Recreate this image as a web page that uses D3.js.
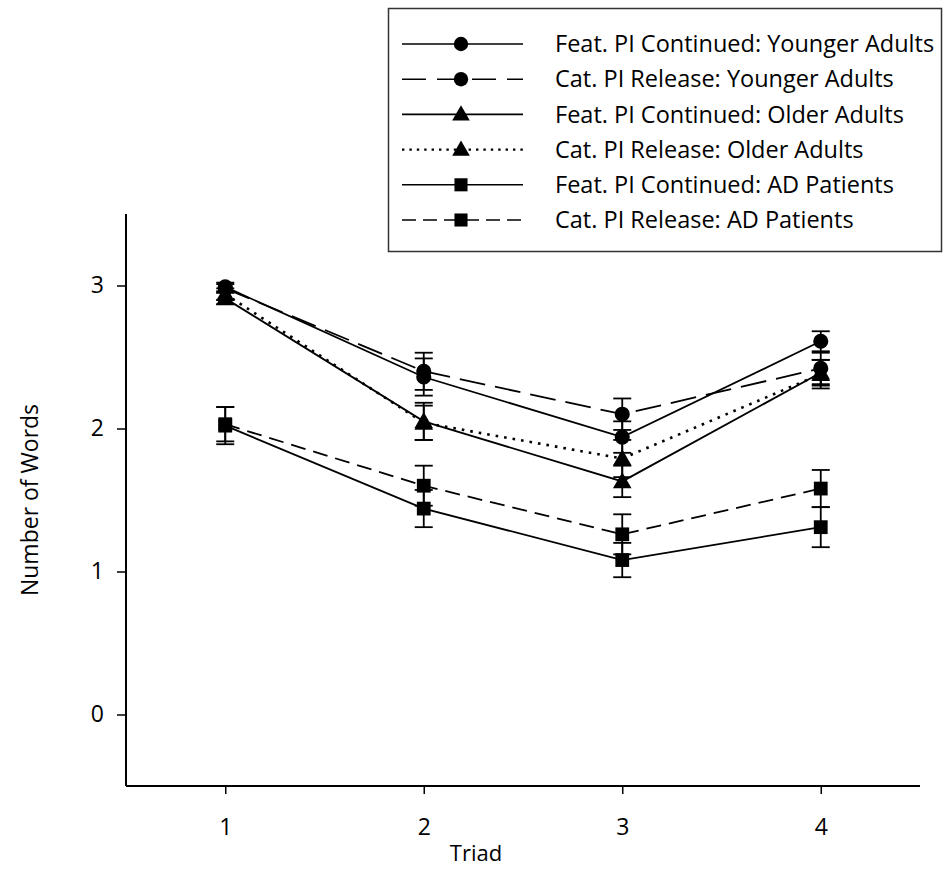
<!DOCTYPE html>
<html>
<head>
<meta charset="utf-8">
<script src="https://cdn.jsdelivr.net/npm/d3@7"></script>
<style>
  html, body { margin: 0; padding: 0; background: #fff; }
  svg { display: block; font-family: "Open Sans", "DejaVu Sans", sans-serif; }
</style>
</head>
<body>
<svg id="chart" width="947" height="892"></svg>
<script>
// Recall by triad for each interference condition and group
const triads = [1, 2, 3, 4];
const xTicks = [1, 2, 3, 4];
const yTicks = [0, 1, 2, 3];

const featYoungMean = [2.99, 2.36, 1.94, 2.61];
const featYoungErr  = [0.03, 0.13, 0.11, 0.07];
const catYoungMean  = [2.98, 2.40, 2.10, 2.42];
const catYoungErr   = [0.03, 0.13, 0.11, 0.11];
const featOldMean   = [2.91, 2.05, 1.63, 2.39];
const featOldErr    = [0.04, 0.13, 0.11, 0.09];
const catOldMean    = [2.94, 2.04, 1.79, 2.38];
const catOldErr     = [0.04, 0.12, 0.13, 0.10];
const featADMean    = [2.02, 1.44, 1.08, 1.31];
const featADErr     = [0.13, 0.13, 0.12, 0.14];
const catADMean     = [2.03, 1.60, 1.26, 1.58];
const catADErr      = [0.12, 0.14, 0.14, 0.13];

const seriesNames = [
  "Feat. PI Continued: Younger Adults",
  "Cat. PI Release: Younger Adults",
  "Feat. PI Continued: Older Adults",
  "Cat. PI Release: Older Adults",
  "Feat. PI Continued: AD Patients",
  "Cat. PI Release: AD Patients"
];

const series = [
  { name: seriesNames[0], mean: featYoungMean, err: featYoungErr, symbol: d3.symbolCircle,   dash: null,    legendDash: null,    dotted: false },
  { name: seriesNames[1], mean: catYoungMean,  err: catYoungErr,  symbol: d3.symbolCircle,   dash: "26,10", legendDash: "24,11", dotted: false },
  { name: seriesNames[2], mean: featOldMean,   err: featOldErr,   symbol: d3.symbolTriangle, dash: null,    legendDash: null,    dotted: false },
  { name: seriesNames[3], mean: catOldMean,    err: catOldErr,    symbol: d3.symbolTriangle, dash: "2.6,6", legendDash: "2.4,5", dotted: true },
  { name: seriesNames[4], mean: featADMean,    err: featADErr,    symbol: d3.symbolSquare,   dash: null,    legendDash: null,    dotted: false },
  { name: seriesNames[5], mean: catADMean,     err: catADErr,     symbol: d3.symbolSquare,   dash: "15,8",  legendDash: "14,7",  dotted: false }
];

const svg = d3.select("#chart");
svg.append("rect").attr("width", 947).attr("height", 892).attr("fill", "#fff");

const x = d3.scaleLinear().domain([0.5, 4.5]).range([126, 920]);
const y = d3.scaleLinear().domain([-0.5, 3.5]).range([786, 214]);

const symbolSize = { circle: 180, triangle: 150, square: 190 };
function symSize(sym, scale) {
  const base = sym === d3.symbolCircle ? symbolSize.circle
             : sym === d3.symbolTriangle ? symbolSize.triangle : symbolSize.square;
  return base * (scale || 1);
}

const fontSize = 23;

// Axes
const yAxis = d3.axisLeft(y).tickValues(yTicks).tickSize(9).tickPadding(13).tickFormat(d3.format("d"));
const xAxis = d3.axisBottom(x).tickValues(xTicks).tickSize(8).tickPadding(25).tickFormat(d3.format("d"));

const gy = svg.append("g").attr("transform", `translate(${x.range()[0]},0)`).call(yAxis);
const gx = svg.append("g").attr("transform", `translate(0,${y.range()[0]})`).call(xAxis);

[gx, gy].forEach(g => {
  g.select(".domain").attr("stroke", "#000").attr("stroke-width", 2);
  g.selectAll(".tick line").attr("stroke", "#000").attr("stroke-width", 1.5);
  g.selectAll(".tick text").attr("fill", "#000").attr("font-size", fontSize)
    .attr("font-family", "'Open Sans', sans-serif");
});
gx.select(".domain").attr("d", `M${x.range()[0]},0H${x.range()[1]}`);
gy.select(".domain").attr("d", `M0,${y.range()[0]}V${y.range()[1]}`);

svg.append("text")
  .attr("x", 476).attr("y", 861)
  .attr("text-anchor", "middle")
  .attr("font-size", 22)
  .text("Triad");

svg.append("text")
  .attr("transform", "translate(38,500) rotate(-90)")
  .attr("text-anchor", "middle")
  .attr("font-size", fontSize)
  .text("Number of Words");

// Series: error bars, connecting lines, markers
const plot = svg.append("g");
const line = d3.line().x((d, i) => x(triads[i])).y(d => y(d));

series.forEach(s => {
  const g = plot.append("g");
  const capHalf = 9;
  s.mean.forEach((m, i) => {
    const cx = x(triads[i]);
    const top = y(m + s.err[i]);
    const bot = y(m - s.err[i]);
    g.append("line").attr("x1", cx).attr("x2", cx).attr("y1", top).attr("y2", bot)
      .attr("stroke", "#000").attr("stroke-width", 1.8);
    [top, bot].forEach(yy => {
      g.append("line").attr("x1", cx - capHalf).attr("x2", cx + capHalf)
        .attr("y1", yy).attr("y2", yy)
        .attr("stroke", "#000").attr("stroke-width", 1.8);
    });
  });
  g.append("path")
    .attr("d", line(s.mean))
    .attr("fill", "none")
    .attr("stroke", "#000")
    .attr("stroke-width", s.dotted ? 2.6 : 1.8)
    .attr("stroke-dasharray", s.dash);
});

series.forEach(s => {
  const sym = d3.symbol().type(s.symbol).size(symSize(s.symbol));
  plot.append("g").selectAll("path")
    .data(s.mean)
    .join("path")
    .attr("transform", (d, i) => `translate(${x(triads[i])},${y(d) + (s.symbol === d3.symbolTriangle ? 1.5 : 0)})`)
    .attr("d", sym)
    .attr("fill", "#000");
});

// Legend
const legend = svg.append("g");
legend.append("rect")
  .attr("x", 388.5).attr("y", 8.5).attr("width", 553).attr("height", 243)
  .attr("fill", "#fff").attr("stroke", "#333").attr("stroke-width", 1.5);

const legendY = d3.scalePoint().domain(seriesNames).range([44, 220]);
series.forEach(s => {
  const ly = legendY(s.name);
  legend.append("line")
    .attr("x1", 402).attr("x2", 523).attr("y1", ly).attr("y2", ly)
    .attr("stroke", "#000")
    .attr("stroke-width", s.dotted ? 2.4 : 1.6)
    .attr("stroke-dasharray", s.legendDash);
  legend.append("path")
    .attr("transform", `translate(461,${ly + (s.symbol === d3.symbolTriangle ? 1 : 0)})`)
    .attr("d", d3.symbol().type(s.symbol).size(symSize(s.symbol, 0.9)))
    .attr("fill", "#000");
  legend.append("text")
    .attr("x", 555).attr("y", ly)
    .attr("dy", "0.35em")
    .attr("font-size", 23.5)
    .text(s.name);
});
</script>
</body>
</html>
